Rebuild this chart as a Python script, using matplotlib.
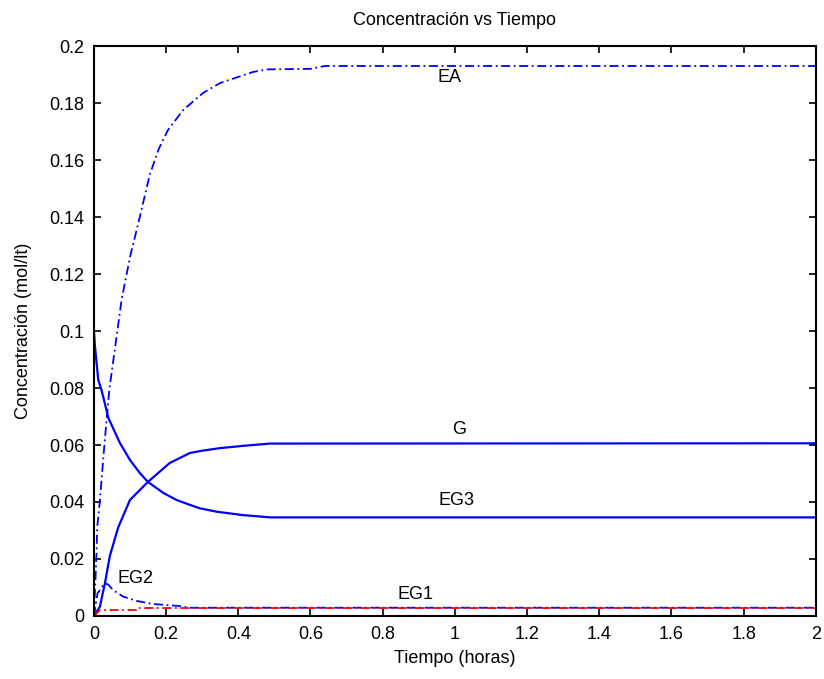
import matplotlib
matplotlib.use("Agg")
import matplotlib.pyplot as plt

plt.rcParams['font.family'] = ['Liberation Sans', 'DejaVu Sans']

# EA (dash-dot)
t_ea = [0, 0.004, 0.0074, 0.009, 0.0166, 0.0277, 0.0425, 0.0767, 0.1, 0.127, 0.142, 0.155, 0.18, 0.205,
        0.247, 0.302, 0.349, 0.396, 0.441, 0.48, 0.6, 0.64, 2.0]
ea = [0, 0.012, 0.023, 0.031, 0.0407, 0.0582, 0.0793, 0.111, 0.126, 0.14, 0.148, 0.155, 0.164, 0.1705,
      0.1775, 0.1835, 0.187, 0.189, 0.1909, 0.1918, 0.192, 0.193, 0.193]

# G (solid)
t_g = [0, 0.0166, 0.0305, 0.044, 0.067, 0.0997, 0.15, 0.21, 0.266, 0.3, 0.349, 0.413, 0.488, 2.0]
g = [0, 0.0033, 0.0115, 0.021, 0.031, 0.0407, 0.0471, 0.0537, 0.0572, 0.058, 0.0589, 0.0597, 0.0605, 0.0606]

# EG3 (solid)
t_eg3 = [0, 0.003, 0.012, 0.021, 0.04, 0.072, 0.1, 0.127, 0.15, 0.192, 0.229, 0.266, 0.293, 0.34,
         0.413, 0.49, 2.0]
eg3 = [0.1, 0.0945, 0.0828, 0.0793, 0.0695, 0.0607, 0.0547, 0.0502, 0.047, 0.0432, 0.0407, 0.039,
       0.0378, 0.0366, 0.0354, 0.0346, 0.0346]

# EG2 (dash-dot)
t_eg2 = [0, 0.01, 0.03, 0.04, 0.053, 0.081, 0.118, 0.164, 0.238, 0.266, 2.0]
eg2 = [0, 0.008, 0.0115, 0.011, 0.0091, 0.0068, 0.0053, 0.0042, 0.0035, 0.0029, 0.0029]

# EG1 (red dash-dot)
t_eg1 = [0, 0.017, 0.118, 0.12, 2.0]
eg1 = [0, 0.0021, 0.0021, 0.0028, 0.0028]

labels = ["EA", "G", "EG3", "EG1", "EG2"]
label_x = [0.953, 0.992, 0.956, 0.842, 0.066]
label_y = [0.1888, 0.0653, 0.0407, 0.0074, 0.0133]

fig = plt.figure(figsize=(8.24, 6.79), dpi=100)
ax = fig.add_axes([0.114, 0.0928, 0.876, 0.8394])

dd = (0, (5, 2, 1, 2))
ax.plot(t_ea, ea, color='blue', linestyle=dd, lw=1.3)
ax.plot(t_g, g, color='blue', linestyle='-', lw=1.6)
ax.plot(t_eg3, eg3, color='blue', linestyle='-', lw=1.6)
ax.plot(t_eg2, eg2, color='blue', linestyle=dd, lw=1.3)
ax.plot(t_eg1, eg1, color='red', linestyle=dd, lw=1.3)

for s, x, y in zip(labels, label_x, label_y):
    ax.text(x, y, s, fontsize=13, ha='left', va='center')

ax.set_xlim(0, 2)
ax.set_ylim(0, 0.2)
ax.set_xticks([0, 0.2, 0.4, 0.6, 0.8, 1, 1.2, 1.4, 1.6, 1.8, 2])
ax.set_xticklabels(['0', '0.2', '0.4', '0.6', '0.8', '1', '1.2', '1.4', '1.6', '1.8', '2'])
ax.set_yticks([0, 0.02, 0.04, 0.06, 0.08, 0.1, 0.12, 0.14, 0.16, 0.18, 0.2])
ax.set_yticklabels(['0', '0.02', '0.04', '0.06', '0.08', '0.1', '0.12', '0.14', '0.16', '0.18', '0.2'])
ax.tick_params(direction='in', top=True, right=True, length=5, width=1.2, labelsize=13, pad=7)
for sp in ax.spines.values():
    sp.set_linewidth(1.5)

ax.set_title('Concentración vs Tiempo', fontsize=13, pad=15)
ax.set_xlabel('Tiempo (horas)', fontsize=13, labelpad=5)
ax.set_ylabel('Concentración (mol/lt)', fontsize=13, labelpad=12)

fig.savefig('out.png', dpi=100)
